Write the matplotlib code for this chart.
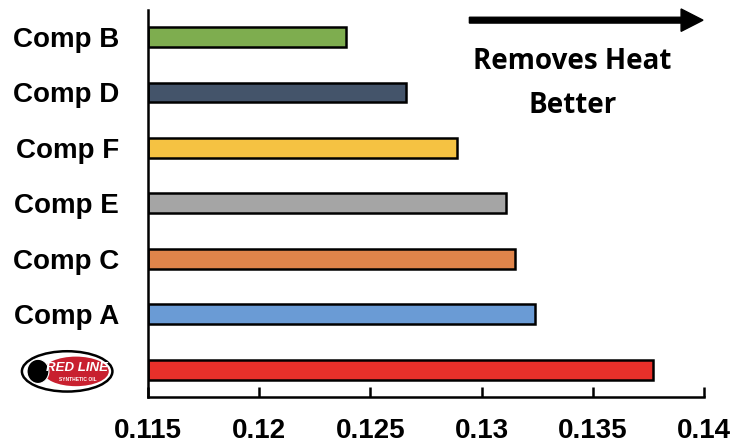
import matplotlib.pyplot as plt
from matplotlib.patches import Ellipse, FancyArrow

# Data (bottom to top)
labels = ['Red Line', 'Comp A', 'Comp C', 'Comp E', 'Comp F', 'Comp D', 'Comp B']
values = [0.1377, 0.1324, 0.1315, 0.1311, 0.1289, 0.1266, 0.1239]
colors = ['#E8302A', '#6A9BD5', '#E0844A', '#A5A5A5', '#F5C242', '#44546A', '#7EAD4F']
xticks = [0.115, 0.12, 0.125, 0.13, 0.135, 0.14]

fig = plt.figure(figsize=(7.3, 4.48), dpi=100)
ax = fig.add_axes([0.2027, 0.114, 0.7617, 0.864])

y = range(len(labels))
ax.barh(y, [v - 0.115 for v in values], left=0.115, height=0.36,
        color=colors, edgecolor='black', linewidth=1.8)

ax.set_xlim(0.115, 0.14)
ax.set_ylim(-0.49, 6.49)
ax.set_xticks(xticks)
ax.set_xticklabels(['0.115', '0.12', '0.125', '0.13', '0.135', '0.14'],
                   fontsize=20, fontweight='bold', family='Liberation Sans')
ax.tick_params(axis='x', direction='in', length=7, width=1.8, pad=15)
ax.set_yticks(list(y))
ax.set_yticklabels(['' if l == 'Red Line' else l for l in labels],
                   fontsize=20, fontweight='bold', family='Liberation Sans')
ax.tick_params(axis='y', length=0, pad=21)

for side in ['top', 'right']:
    ax.spines[side].set_visible(False)
for side in ['left', 'bottom']:
    ax.spines[side].set_linewidth(1.8)

# Red Line logo in place of the bottom label
fig.add_artist(Ellipse((0.092, 0.171), 0.124, 0.09, transform=fig.transFigure,
                       facecolor='white', edgecolor='black', linewidth=1.8))
fig.add_artist(Ellipse((0.104, 0.171), 0.09, 0.066, transform=fig.transFigure,
                       facecolor='#C8202F', edgecolor='none'))
fig.add_artist(Ellipse((0.052, 0.171), 0.03, 0.054, transform=fig.transFigure,
                       facecolor='black', edgecolor='white', linewidth=0.8))
fig.text(0.106, 0.179, 'RED LINE', ha='center', va='center', fontsize=9.5,
         fontweight='bold', style='italic', color='white', family='Liberation Sans')
fig.text(0.106, 0.152, 'SYNTHETIC OIL', ha='center', va='center', fontsize=3.5,
         fontweight='bold', color='white', family='Liberation Sans')

# Arrow annotation
fig.add_artist(FancyArrow(0.643, 0.955, 0.29, 0, width=0.013, head_width=0.05,
                          head_length=0.03, transform=fig.transFigure,
                          color='black'))
fig.text(0.784, 0.862, 'Removes Heat', ha='center', va='center', fontsize=20,
         fontweight='bold', family='Open Sans')
fig.text(0.784, 0.765, 'Better', ha='center', va='center', fontsize=20,
         fontweight='bold', family='Open Sans')

fig.savefig('out.png', dpi=100)
